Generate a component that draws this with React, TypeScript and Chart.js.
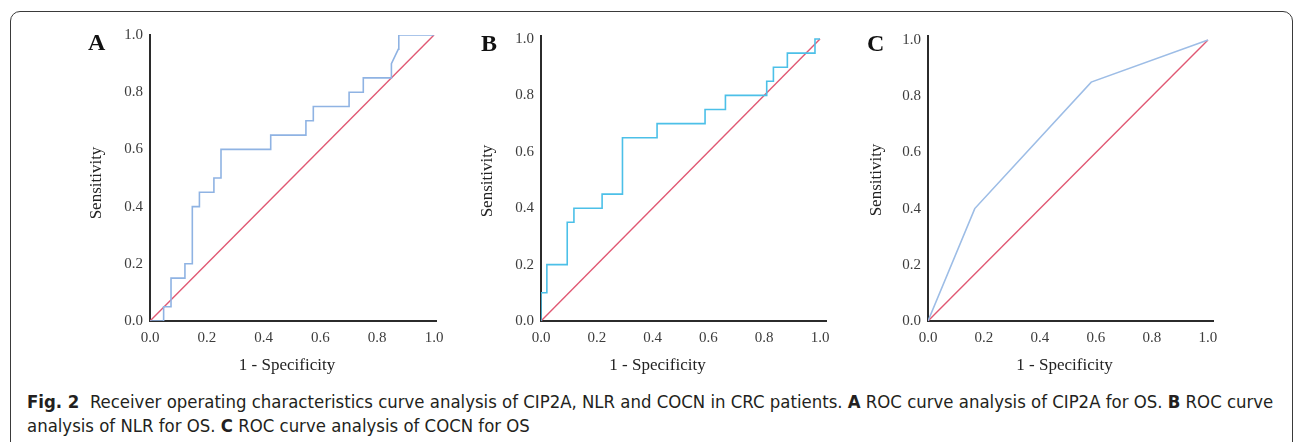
import React, { useEffect, useRef } from "react";
import { Chart, registerables } from "chart.js";

Chart.register(...registerables);

// ---------- data ----------
const tickValues = [0, 0.2, 0.4, 0.6, 0.8, 1.0];

// Panel A: CIP2A
const aFpr = [0, 0.048, 0.048, 0.074, 0.074, 0.123, 0.123, 0.149, 0.149, 0.174, 0.174, 0.225, 0.225, 0.25, 0.25, 0.425, 0.425, 0.549, 0.549, 0.575, 0.575, 0.701, 0.701, 0.751, 0.751, 0.85, 0.85, 0.874, 0.876, 1.0];
const aTpr = [0, 0, 0.05, 0.05, 0.15, 0.15, 0.2, 0.2, 0.4, 0.4, 0.45, 0.45, 0.5, 0.5, 0.6, 0.6, 0.65, 0.65, 0.7, 0.7, 0.75, 0.75, 0.8, 0.8, 0.85, 0.85, 0.9, 0.95, 1.0, 1.0];

// Panel B: NLR
const bFpr = [0, 0, 0.021, 0.021, 0.094, 0.094, 0.118, 0.118, 0.219, 0.219, 0.292, 0.292, 0.416, 0.416, 0.588, 0.588, 0.661, 0.661, 0.809, 0.809, 0.833, 0.833, 0.883, 0.883, 0.982, 0.982, 1.0];
const bTpr = [0, 0.1, 0.1, 0.2, 0.2, 0.35, 0.35, 0.4, 0.4, 0.45, 0.45, 0.65, 0.65, 0.7, 0.7, 0.75, 0.75, 0.8, 0.8, 0.85, 0.85, 0.9, 0.9, 0.95, 0.95, 1.0, 1.0];

// Panel C: COCN
const cFpr = [0, 0.167, 0.583, 1.0];
const cTpr = [0, 0.4, 0.85, 1.0];

// Reference line
const refFpr = [0, 1];
const refTpr = [0, 1];

const panelLetters = ["A", "B", "C"];
const yTitle = "Sensitivity";
const xTitle = "1 - Specificity";

// ---------- layout / style ----------
const CANVAS_H = 385;
const Y_AXIS_W = 45;
const X_AXIS_H = 30;

type Panel = {
  letter: string;
  fpr: number[];
  tpr: number[];
  color: string;
  canvasLeft: number;
  canvasWidth: number;
  area: { left: number; right: number; top: number; bottom: number };
  xMax: number;
  yMax: number;
  letterDx: number;
  yTitleDx: number;
  yTitleY: number;
  xTitleDx: number;
};

const panels: Panel[] = [
  {
    letter: panelLetters[0], fpr: aFpr, tpr: aTpr, color: "#8fb3e3",
    canvasLeft: 0, canvasWidth: 460,
    area: { left: 150, right: 24, top: 35, bottom: 64 },
    xMax: 1.007, yMax: 1.0,
    letterDx: -62, yTitleDx: -53, yTitleY: 183, xTitleDx: -6,
  },
  {
    letter: panelLetters[1], fpr: bFpr, tpr: bTpr, color: "#4cc0e8",
    canvasLeft: 460, canvasWidth: 390,
    area: { left: 81, right: 24, top: 36, bottom: 64 },
    xMax: 1.0215, yMax: 1.0106,
    letterDx: -60, yTitleDx: -53, yTitleY: 181, xTitleDx: -26,
  },
  {
    letter: panelLetters[2], fpr: cFpr, tpr: cTpr, color: "#9dbde6",
    canvasLeft: 850, canvasWidth: 443,
    area: { left: 78, right: 80, top: 36, bottom: 64 },
    xMax: 1.018, yMax: 1.014,
    letterDx: -61, yTitleDx: -51, yTitleY: 180, xTitleDx: -6,
  },
];

const textPlugin = {
  id: "panelText",
  afterDraw(chart: any, _args: any, opts: any) {
    const { ctx, chartArea } = chart;
    ctx.save();
    ctx.fillStyle = "#111";
    ctx.font = 'bold 24px "Liberation Serif", serif';
    ctx.textAlign = "left";
    ctx.textBaseline = "alphabetic";
    ctx.fillText(opts.letter, chartArea.left + opts.letterDx, chartArea.top + 15);

    ctx.fillStyle = "#222";
    ctx.font = '17px "Liberation Serif", serif';
    ctx.textAlign = "center";
    ctx.textBaseline = "middle";
    ctx.fillText(opts.xTitle, (chartArea.left + chartArea.right) / 2 + opts.xTitleDx, chartArea.bottom + 45);

    ctx.translate(chartArea.left + opts.yTitleDx, opts.yTitleY);
    ctx.rotate(-Math.PI / 2);
    ctx.fillText(opts.yTitle, 0, 0);
    ctx.restore();
  },
};

function makeScale(max: number, horizontal: boolean) {
  return {
    type: "linear" as const,
    min: 0,
    max,
    afterBuildTicks: (s: any) => {
      s.ticks = tickValues.map((v) => ({ value: v }));
    },
    afterFit: (s: any) => {
      if (horizontal) s.height = X_AXIS_H;
      else s.width = Y_AXIS_W;
    },
    grid: { display: false, drawTicks: false },
    border: { display: true, color: "#2b2b2b", width: 2 },
    ticks: {
      padding: horizontal ? 8 : 7,
      color: "#3c3c3c",
      font: { family: '"Liberation Serif", serif', size: 15 },
      maxRotation: 0,
      autoSkip: false,
      callback: (v: any) => Number(v).toFixed(1),
    },
  };
}

function PanelChart({ p }: { p: Panel }) {
  const ref = useRef<HTMLCanvasElement | null>(null);
  useEffect(() => {
    if (!ref.current) return;
    const curve = p.fpr.map((x, i) => ({ x, y: p.tpr[i] }));
    const diag = refFpr.map((x, i) => ({ x, y: refTpr[i] }));
    const chart = new Chart(ref.current, {
      type: "scatter",
      data: {
        datasets: [
          {
            data: curve,
            showLine: true,
            borderColor: p.color,
            borderWidth: 1.6,
            pointRadius: 0,
            tension: 0,
          },
          {
            data: diag,
            showLine: true,
            borderColor: "#e05873",
            borderWidth: 1.4,
            pointRadius: 0,
          },
        ],
      },
      options: {
        responsive: false,
        animation: false,
        devicePixelRatio: 1,
        layout: {
          padding: {
            left: p.area.left - Y_AXIS_W,
            right: p.area.right,
            top: p.area.top,
            bottom: p.area.bottom - X_AXIS_H,
          },
        },
        scales: {
          x: makeScale(p.xMax, true),
          y: makeScale(p.yMax, false),
        },
        plugins: {
          legend: { display: false },
          tooltip: { enabled: false },
          panelText: {
            letter: p.letter,
            letterDx: p.letterDx,
            yTitleDx: p.yTitleDx,
            yTitleY: p.yTitleY,
            xTitleDx: p.xTitleDx,
            xTitle,
            yTitle,
          },
        } as any,
      },
      plugins: [textPlugin],
    });
    return () => chart.destroy();
  }, [p]);
  return (
    <canvas
      ref={ref}
      width={p.canvasWidth}
      height={CANVAS_H}
      style={{ position: "absolute", left: p.canvasLeft, top: 0, width: p.canvasWidth, height: CANVAS_H }}
    />
  );
}

export default function App() {
  return (
    <div
      style={{
        position: "absolute",
        left: 0,
        top: 0,
        width: 1293,
        height: 442,
        overflow: "hidden",
        background: "#fff",
      }}
    >
      <div
        style={{
          position: "absolute",
          left: 10,
          top: 11,
          width: 1281,
          height: 470,
          border: "1.5px solid #3a3a3a",
          borderRadius: 10,
        }}
      />
      {panels.map((p) => (
        <PanelChart key={p.letter} p={p} />
      ))}
      <div
        style={{
          position: "absolute",
          left: 27,
          top: 390,
          whiteSpace: "nowrap",
          fontFamily: '"DejaVu Sans Condensed", "Noto Sans", sans-serif',
          fontSize: 18.4,
          lineHeight: "24px",
          color: "#231f20",
        }}
      >
        <b>Fig. 2</b>&nbsp; Receiver operating characteristics curve analysis of CIP2A, NLR and COCN in CRC patients. <b>A</b> ROC curve analysis of CIP2A for OS. <b>B</b> ROC curve
        <br />
        analysis of NLR for OS. <b>C</b> ROC curve analysis of COCN for OS
      </div>
    </div>
  );
}
